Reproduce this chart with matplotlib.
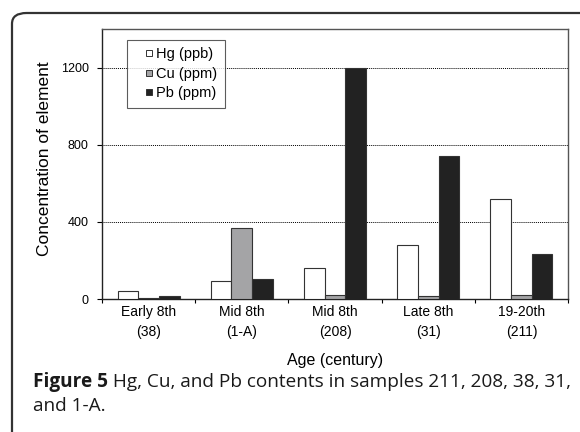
import matplotlib
matplotlib.use("Agg")
import matplotlib.pyplot as plt
import numpy as np
from matplotlib.patches import FancyBboxPatch
from matplotlib.lines import Line2D

categories = ["Early 8th\n(38)", "Mid 8th\n(1-A)", "Mid 8th\n(208)", "Late 8th\n(31)", "19-20th\n(211)"]
series_names = ["Hg (ppb)", "Cu (ppm)", "Pb (ppm)"]
hg = [42, 92, 160, 278, 520]
cu = [4, 370, 20, 15, 22]
pb = [15, 102, 1200, 740, 232]
y_ticks = [0, 400, 800, 1200]
x_label = "Age (century)"
y_label = "Concentration of element"
caption_bold = "Figure 5"
caption_line1 = " Hg, Cu, and Pb contents in samples 211, 208, 38, 31,"
caption_line2 = "and 1-A."

W, H = 580, 432
AX_L, AX_R, AX_T, AX_B = 102, 568, 29, 299
fig = plt.figure(figsize=(W / 100, H / 100), dpi=100)
fig.patch.set_facecolor("white")

# outer rounded frame (open to right and bottom)
frame = FancyBboxPatch((12 / W, -0.2), 1.2, 1.2 - 13 / H,
                       boxstyle="round,pad=0,rounding_size=0.025",
                       transform=fig.transFigure, facecolor="none",
                       edgecolor="#333333", lw=1.6, clip_on=False)
fig.patches.append(frame)

ax = fig.add_axes([AX_L / W, 1 - AX_B / H, (AX_R - AX_L) / W, (AX_B - AX_T) / H])
ax.set_facecolor("white")

x = np.arange(len(categories))
bw = 0.222
colors = ["white", "#a4a4a6", "#222222"]
for i, (vals, c) in enumerate(zip([hg, cu, pb], colors)):
    ax.bar(x + (i - 1) * bw, vals, width=bw, color=c, edgecolor="#333333",
           lw=0.8, zorder=3)

ax.set_xlim(-0.5, len(categories) - 0.5)
ax.set_ylim(0, 1400)
ax.set_yticks(y_ticks)
ax.set_yticklabels([str(v) for v in y_ticks], fontsize=9, family="Liberation Sans")
for v in y_ticks[1:]:
    ax.axhline(v, color="black", lw=0.7, ls=(0, (1, 1)), zorder=1)

ax.set_xticks(np.arange(len(categories) + 1) - 0.5)
ax.set_xticklabels([])
ax.set_xticks(x, minor=True)
ax.set_xticklabels(categories, minor=True, fontsize=10, family="Liberation Sans",
                   linespacing=1.6)
ax.tick_params(axis="x", which="minor", length=0, pad=4)
ax.tick_params(axis="x", which="major", length=3, direction="out", width=0.8)
ax.tick_params(axis="y", length=3.6, direction="out", width=0.8, pad=6)

for s in ["left", "bottom"]:
    ax.spines[s].set_color("#222222")
    ax.spines[s].set_linewidth(1.0)
for s in ["top", "right"]:
    ax.spines[s].set_color("#555555")
    ax.spines[s].set_linewidth(1.0)

ax.set_xlabel(x_label, fontsize=11.5, family="Liberation Sans", va="center")
ax.xaxis.set_label_coords(0.5, (AX_B - 360) / (AX_B - AX_T))
ax.set_ylabel(y_label, fontsize=12.5, family="Liberation Sans", va="center")
ax.yaxis.set_label_coords((45 - AX_L) / (AX_R - AX_L), 0.5 - (159 - (AX_T + AX_B) / 2) / (AX_B - AX_T))

handles = [Line2D([], [], ls="none", marker="s", markersize=4.2,
                  markerfacecolor=c, markeredgecolor="#333333", markeredgewidth=0.7)
           for c in colors]
fs = 10.5
leg = ax.legend(handles, series_names, loc="upper left",
                bbox_to_anchor=((127 - AX_L) / (AX_R - AX_L), 1 - (40 - AX_T) / (AX_B - AX_T)),
                frameon=True, fancybox=False, edgecolor="#333333",
                prop={"family": "Liberation Sans", "size": fs},
                handlelength=2.0, handletextpad=-0.5,
                borderpad=0.5, labelspacing=0.38, borderaxespad=0)
leg.get_frame().set_linewidth(0.8)

# caption
fig.canvas.draw()
r = fig.canvas.get_renderer()
cfs = 13.7
t1 = fig.text(33 / W, 1 - 382 / H, caption_bold, fontsize=cfs, fontweight="bold",
              family="Open Sans", va="center", ha="left", color="#1a1a1a")
bb = t1.get_window_extent(renderer=r)
fig.text(bb.x1 / W, 1 - 382 / H, caption_line1, fontsize=cfs, family="Open Sans",
         va="center", ha="left", color="#1a1a1a")
fig.text(33 / W, 1 - 406 / H, caption_line2, fontsize=cfs, family="Open Sans",
         va="center", ha="left", color="#1a1a1a")

fig.savefig("out.png", dpi=100, facecolor="white")
